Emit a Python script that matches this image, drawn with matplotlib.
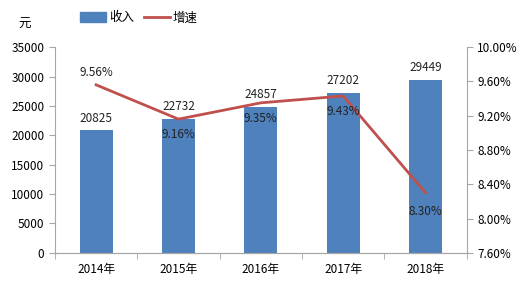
import matplotlib.pyplot as plt
import numpy as np
from matplotlib.lines import Line2D
from matplotlib.patches import Patch

plt.rcParams['font.family'] = ['Noto Sans CJK SC', 'DejaVu Sans']

years = ["2014年", "2015年", "2016年", "2017年", "2018年"]
income = [20825, 22732, 24857, 27202, 29449]
growth = [9.56, 9.16, 9.35, 9.43, 8.30]

bar_color = "#4F81BD"
line_color = "#C0504D"
axis_color = "#A6A6A6"
fs = 8.5

fig = plt.figure(figsize=(5.28, 2.89), dpi=100)
ax = fig.add_axes([0.104, 0.125, 0.78, 0.712])
ax2 = ax.twinx()

x = np.arange(len(years))
ax.bar(x, income, width=0.4, color=bar_color, zorder=2)
ax.set_xlim(-0.5, 4.5)
ax.set_ylim(0, 35000)
ax.set_yticks(range(0, 35001, 5000))
ax.set_xticks(x)
ax.set_xticklabels(years, fontsize=fs)
ax.set_xticks(np.arange(-0.5, 4.6, 1), minor=True)
ax.tick_params(axis="x", which="major", length=0, pad=7)
ax.tick_params(axis="x", which="minor", length=4, color=axis_color)
ax.tick_params(axis="y", length=4, color=axis_color, labelsize=fs)

for xi, v in zip(x, income):
    ax.text(xi, v + 1000, str(v), ha="center", va="bottom", fontsize=fs, color="#222222")

ax2.plot(x, growth, color=line_color, lw=2, zorder=3)
ax2.set_ylim(7.6, 10.0)
ax2.set_yticks(np.arange(7.6, 10.01, 0.4))
ax2.set_yticklabels([f"{v:.2f}%" for v in np.arange(7.6, 10.01, 0.4)], fontsize=fs)
ax2.tick_params(axis="y", length=4, color=axis_color)

offsets = [0.14, -0.18, -0.18, -0.18, -0.22]
for xi, g, o in zip(x, growth, offsets):
    ax2.text(xi, g + o, f"{g:.2f}%", ha="center", va="center", fontsize=fs, color="#222222")

for a in (ax, ax2):
    a.spines["top"].set_visible(False)
    a.spines["left"].set_color(axis_color)
    a.spines["right"].set_color(axis_color)
    a.spines["bottom"].set_color(axis_color)
ax.spines["right"].set_visible(False)
ax2.spines["left"].set_visible(False)

fig.text(0.047, 0.915, "元", fontsize=fs + 0.5, ha="center", va="center")
handles = [Patch(color=bar_color), Line2D([0], [0], color=line_color, lw=2)]
fig.legend(handles, ["收入", "增速"], loc="center left", bbox_to_anchor=(0.135, 0.938),
           ncol=2, frameon=False, fontsize=fs + 0.5, handlelength=2.1, handleheight=0.75,
           columnspacing=0.8, handletextpad=0.2, borderpad=0.2)

fig.savefig("out.png", dpi=100)
